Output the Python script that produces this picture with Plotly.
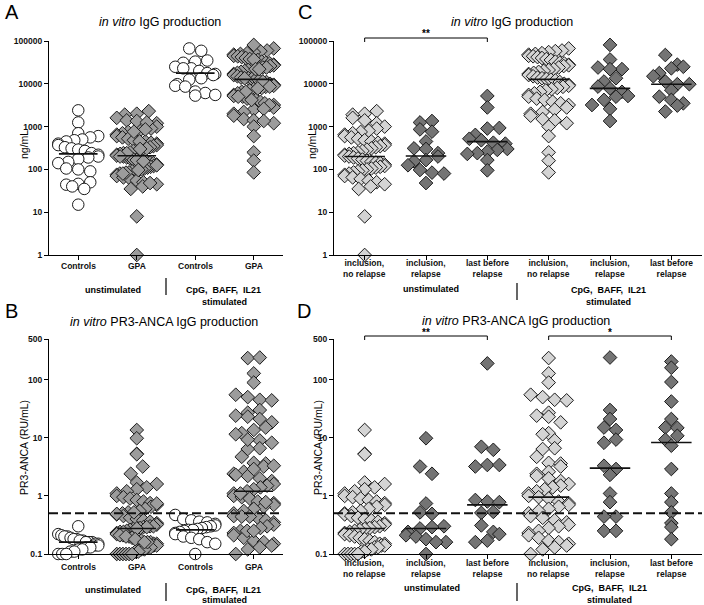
import numpy as np
import plotly.graph_objects as go

# ---------------- data ----------------
# Panel C : in vitro IgG (ng/mL), GPA subgroups
igg_unstim_incl_norelapse = [2300, 2000, 1900, 1600, 1400, 1200, 1000, 900, 800, 750, 700, 650, 600, 560,
                             520, 480, 450, 420, 400, 370, 350, 330, 310, 290, 270, 250, 240, 230, 220,
                             210, 200, 190, 180, 170, 160, 150, 145, 140, 130, 120, 115, 110, 105, 100,
                             95, 90, 85, 80, 75, 70, 65, 60, 55, 50, 45, 40, 35, 8, 1]
igg_unstim_incl_relapse = [1350, 1250, 860, 760, 450, 310, 300, 240, 200, 165, 155, 125, 97, 84, 80, 48]
igg_unstim_last_before = [5200, 2800, 930, 900, 640, 520, 480, 420, 400, 300, 285, 260, 240, 230, 165, 95]
igg_stim_incl_norelapse = [67000, 60000, 58000, 55000, 52000, 50000, 48000, 45000, 44000, 42000, 40000,
                           38000, 36000, 33000, 31000, 30000, 28000, 27000, 26000, 24000, 22000, 21000,
                           20000, 19000, 18000, 17000, 16000, 15000, 14000, 13500, 13000, 12500, 12000,
                           11000, 10000, 9500, 9000, 8500, 8000, 7500, 7000, 6500, 6000, 5500, 5000, 4500,
                           4200, 3800, 3500, 3200, 2800, 2500, 2200, 2000, 1800, 1500, 1400, 1200, 1000,
                           600, 250, 160, 85]
igg_stim_incl_relapse = [81000, 37000, 24000, 22000, 22000, 13500, 11300, 8600, 7800, 6500, 5200, 5000,
                         4200, 3200, 2600, 1350]
igg_stim_last_before = [47000, 28000, 25000, 23000, 17800, 15000, 11300, 9800, 9800, 7100, 5000, 4200,
                        3500, 3100, 2250]

# Panel A : controls
igg_ctrl_unstim = [2400, 1250, 700, 600, 560, 500, 480, 450, 400, 370, 330, 310, 290, 270, 240, 220, 200,
                   190, 175, 150, 140, 105, 100, 90, 50, 46, 44, 40, 35, 15]
igg_ctrl_stim = [67000, 59000, 35000, 33000, 31000, 25000, 23000, 23000, 20000, 17800, 17000, 16000, 13500,
                 12500, 9800, 9000, 8600, 6600, 6100, 5500, 5300]

# Panel D : in vitro PR3-ANCA (RU/mL), GPA subgroups
anca_unstim_incl_norelapse = [13.6, 5.3, 5.2, 1.7, 1.6, 1.4, 1.3, 1.2, 1.1, 1.0, 0.95, 0.9, 0.85, 0.8, 0.75,
                              0.7, 0.65, 0.6, 0.55, 0.52, 0.5, 0.48, 0.45, 0.42, 0.4, 0.38, 0.36, 0.34, 0.32,
                              0.3, 0.29, 0.28, 0.27, 0.26, 0.25, 0.24, 0.23, 0.22, 0.21, 0.2, 0.19, 0.18,
                              0.17, 0.16, 0.15, 0.15, 0.14, 0.14, 0.13, 0.13, 0.12, 0.12, 0.11, 0.11, 0.1,
                              0.1, 0.1, 0.1, 0.1]
anca_unstim_incl_relapse = [9.8, 3.2, 2.4, 0.74, 0.52, 0.49, 0.3, 0.29, 0.275, 0.24, 0.21, 0.2, 0.18, 0.16,
                            0.16, 0.10]
anca_unstim_last_before = [190, 7.0, 6.2, 3.4, 3.4, 3.2, 0.85, 0.8, 0.78, 0.53, 0.51, 0.31, 0.24, 0.22,
                           0.17, 0.16]
anca_stim_incl_norelapse = [235, 128, 89, 55, 50, 45, 44, 27, 24, 23, 18.4, 12, 11.5, 9, 6.6, 6.4, 4.7, 3.7,
                            3.6, 3.2, 2.6, 2.4, 2.2, 2.0, 1.8, 1.6, 1.5, 1.4, 1.3, 1.2, 1.1, 1.0, 0.95, 0.9,
                            0.8, 0.75, 0.7, 0.65, 0.6, 0.55, 0.5, 0.45, 0.42, 0.38, 0.35, 0.32, 0.3, 0.28,
                            0.25, 0.23, 0.21, 0.19, 0.17, 0.16, 0.15, 0.14, 0.13, 0.12, 0.10]
anca_stim_incl_relapse = [240, 30, 21, 15, 13.6, 9.3, 8.2, 3.3, 2.9, 2.3, 1.1, 0.78, 0.44, 0.44, 0.25, 0.25]
anca_stim_last_before = [205, 160, 91, 42, 21, 15, 14.8, 10.8, 9.3, 7.3, 2.9, 1.1, 0.78, 0.52, 0.34, 0.29,
                         0.18]

# Panel B : controls
anca_ctrl_unstim = [0.30, 0.22, 0.21, 0.20, 0.20, 0.19, 0.18, 0.18, 0.17, 0.17, 0.16, 0.16, 0.16, 0.15, 0.15,
                    0.14, 0.14, 0.13, 0.13, 0.12, 0.12, 0.11, 0.11, 0.10, 0.10, 0.10]
anca_ctrl_stim = [0.47, 0.40, 0.38, 0.36, 0.35, 0.33, 0.31, 0.30, 0.29, 0.28, 0.27, 0.26, 0.26, 0.25, 0.24,
                  0.23, 0.22, 0.20, 0.19, 0.18, 0.16, 0.15, 0.10]

# medians (horizontal bars)
med_A = [230, 209, 17800, 12700]
med_B = [0.16, 0.275, 0.26, 1.2]
med_C = [200, 205, 445, 12700, 7800, 9800]
med_D = [0.275, 0.275, 0.70, 0.95, 3.0, 8.3]
anca_cutoff = 0.5

# tick labels
cats_AB = ["Controls", "GPA", "Controls", "GPA"]
cats_CD = ["inclusion,<br>no relapse", "inclusion,<br>relapse", "last before<br>relapse",
           "inclusion,<br>no relapse", "inclusion,<br>relapse", "last before<br>relapse"]
igg_ticks = [1, 10, 100, 1000, 10000, 100000]
anca_ticks = [0.1, 1, 10, 100, 500]

# ---------------- layout geometry (pixels) ----------------
W, H = 704, 605
FONT = "Liberation Sans, Arial, sans-serif"
panels = {
    "A": dict(ax="", x0=49, x1=283, top=41, bot=255, xr=[0.5, 4.5], yr=[0, 5], laby=266),
    "C": dict(ax="2", x0=334, x1=702, top=41, bot=255, xr=[0.5, 6.5], yr=[0, 5], laby=268.5),
    "B": dict(ax="3", x0=49, x1=283, top=339, bot=554, xr=[0.5, 4.5], yr=[-1, np.log10(500)], laby=567),
    "D": dict(ax="4", x0=334, x1=702, top=339, bot=554, xr=[0.5, 6.5], yr=[-1, np.log10(500)], laby=568.5),
}

fig = go.Figure()


def row_offsets(vals, lo, hi, hpx, rowh=10.0, step=12.0, maxhalf=20.0):
    """GraphPad-like scatter-dot arrangement: points binned in rows, spread symmetrically."""
    ys = (np.log10(np.asarray(vals, float)) - lo) / (hi - lo) * hpx
    bins = np.floor(ys / rowh)
    offs = np.zeros(len(vals))
    for k, b in enumerate(np.unique(bins)):
        idx = np.where(bins == b)[0]
        idx = idx[np.argsort(ys[idx], kind="stable")]
        n = len(idx)
        if n == 1:
            continue
        s = min(step, 2 * maxhalf / (n - 1))
        pos = (np.arange(n) - (n - 1) / 2) * s
        if k % 2:
            pos = pos[::-1]
        offs[idx] = pos
    return offs


def add_group(p, vals, pos, kind):
    g = panels[p]
    ppu = (g["x1"] - g["x0"]) / (g["xr"][1] - g["xr"][0])
    hpx = g["bot"] - g["top"]
    if kind == "ctrl":
        sym, size, color = "circle", 11.5, "white"
    else:
        sym, size = "diamond", 10.5
        color = {"gpa": "#9c9c9c", "light": "#d4d4d4", "dark": "#747474"}[kind]
    offs = row_offsets(vals, g["yr"][0], g["yr"][1], hpx) / ppu
    fig.add_trace(go.Scatter(
        x=pos + offs, y=vals, mode="markers", cliponaxis=False, showlegend=False, hoverinfo="skip",
        marker=dict(symbol=sym, size=size, color=color, line=dict(color="#1a1a1a", width=1)),
        xaxis="x" + g["ax"], yaxis="y" + g["ax"]))


def add_medians(p, meds):
    g = panels[p]
    for i, m in enumerate(meds):
        fig.add_trace(go.Scatter(
            x=[i + 1 - 0.33, i + 1 + 0.33], y=[m, m], mode="lines", cliponaxis=False,
            line=dict(color="#111", width=1.6), showlegend=False, hoverinfo="skip",
            xaxis="x" + g["ax"], yaxis="y" + g["ax"]))


def add_cutoff(p):
    g = panels[p]
    fig.add_trace(go.Scatter(
        x=g["xr"], y=[anca_cutoff, anca_cutoff], mode="lines", cliponaxis=False,
        line=dict(color="#111", width=2, dash="9px,4px"), showlegend=False, hoverinfo="skip",
        xaxis="x" + g["ax"], yaxis="y" + g["ax"]))


# Panel A
add_group("A", igg_ctrl_unstim, 1, "ctrl")
add_group("A", igg_unstim_incl_norelapse + igg_unstim_incl_relapse, 2, "gpa")
add_group("A", igg_ctrl_stim, 3, "ctrl")
add_group("A", igg_stim_incl_norelapse + igg_stim_incl_relapse, 4, "gpa")
add_medians("A", med_A)
# Panel C
add_group("C", igg_unstim_incl_norelapse, 1, "light")
add_group("C", igg_unstim_incl_relapse, 2, "dark")
add_group("C", igg_unstim_last_before, 3, "dark")
add_group("C", igg_stim_incl_norelapse, 4, "light")
add_group("C", igg_stim_incl_relapse, 5, "dark")
add_group("C", igg_stim_last_before, 6, "dark")
add_medians("C", med_C)
# Panel B
add_group("B", anca_ctrl_unstim, 1, "ctrl")
add_group("B", anca_unstim_incl_norelapse + anca_unstim_incl_relapse, 2, "gpa")
add_group("B", anca_ctrl_stim, 3, "ctrl")
add_group("B", anca_stim_incl_norelapse + anca_stim_incl_relapse, 4, "gpa")
add_medians("B", med_B)
add_cutoff("B")
# Panel D
add_group("D", anca_unstim_incl_norelapse, 1, "light")
add_group("D", anca_unstim_incl_relapse, 2, "dark")
add_group("D", anca_unstim_last_before, 3, "dark")
add_group("D", anca_stim_incl_norelapse, 4, "light")
add_group("D", anca_stim_incl_relapse, 5, "dark")
add_group("D", anca_stim_last_before, 6, "dark")
add_medians("D", med_D)
add_cutoff("D")

# ---------------- axes ----------------
layout = dict(width=W, height=H, margin=dict(l=0, r=0, t=0, b=0), template="none",
              paper_bgcolor="white", plot_bgcolor="white", font=dict(family=FONT, color="black"),
              showlegend=False)
ann = []
shapes = []
for p, g in panels.items():
    ax = g["ax"]
    cats = cats_AB if p in "AB" else cats_CD
    yt = igg_ticks if p in "AC" else anca_ticks
    layout["xaxis" + ax] = dict(
        domain=[g["x0"] / W, g["x1"] / W], range=g["xr"], anchor="y" + ax,
        tickvals=list(range(1, len(cats) + 1)), ticktext=cats, showticklabels=False,
        ticks="outside", ticklen=4, tickwidth=1, tickcolor="black", showline=True, linecolor="black",
        linewidth=1.2, showgrid=False, zeroline=False, automargin=False)
    layout["yaxis" + ax] = dict(
        domain=[1 - g["bot"] / H, 1 - g["top"] / H], type="log", range=g["yr"], anchor="x" + ax,
        tickvals=yt, ticktext=[f"{t:g}" for t in yt], ticks="outside", ticklen=4, tickwidth=1,
        tickcolor="black", showline=True, linecolor="black", linewidth=1.2, showgrid=False,
        zeroline=False, automargin=False,
        tickfont=dict(family=FONT, size=8.5, weight="bold", color="#111"))
    # category labels under the ticks
    for i, c in enumerate(cats):
        ann.append(dict(x=i + 1, y=1 - g["laby"] / H, xref="x" + ax, yref="paper", text=c,
                        showarrow=False, xanchor="center", yanchor="middle",
                        font=dict(family=FONT, size=8.5, color="#111", weight="bold")))
fig.update_layout(**layout)


# ---------------- text & decorations ----------------
def txt(x, y, s, size, bold=False, angle=0, xanchor="center"):
    ann.append(dict(x=x / W, y=1 - y / H, xref="paper", yref="paper", text=s, showarrow=False,
                    xanchor=xanchor, yanchor="middle", textangle=angle,
                    font=dict(family=FONT, size=size, color="black", weight="bold" if bold else "normal")))


def pline(x0, y0, x1, y1, width=1.2):
    shapes.append(dict(type="line", xref="paper", yref="paper", x0=x0 / W, x1=x1 / W,
                       y0=1 - y0 / H, y1=1 - y1 / H, line=dict(color="black", width=width)))


# panel letters
txt(3, 12, "A", 20, xanchor="left")
txt(296, 12, "C", 20, xanchor="left")
txt(3, 311, "B", 20, xanchor="left")
txt(295, 311, "D", 20, xanchor="left")
# titles
txt(160, 22, "<i>in vitro</i> IgG production", 12.5)
txt(512, 22, "<i>in vitro</i> IgG production", 12.5)
txt(164, 322, "<i>in vitro</i> PR3-ANCA IgG production", 12.5)
txt(516, 321, "<i>in vitro</i> PR3-ANCA IgG production", 12.5)
# y titles
txt(24, 145, "ng/mL", 10.5, angle=-90)
txt(312, 145, "ng/mL", 10.5, angle=-90)
txt(24, 448, "PR3-ANCA (RU/mL)", 10.5, angle=-90)
txt(318, 448, "PR3-ANCA (RU/mL)", 10.5, angle=-90)
# group labels
sp = "\u00a0"
grp = f"CpG,{sp}{sp}BAFF,{sp}{sp}IL21"
txt(113, 290, "unstimulated", 9, bold=True)
txt(223, 290, grp, 9, bold=True)
txt(224, 302, "stimulated", 9, bold=True)
pline(166, 278, 166, 295)
txt(113, 590, "unstimulated", 9, bold=True)
txt(223, 590, grp, 9, bold=True)
txt(224, 599.5, "stimulated", 9, bold=True)
pline(166, 583, 166, 601)
txt(431, 289, "unstimulated", 9, bold=True)
txt(608, 290, grp, 9, bold=True)
txt(608, 302, "stimulated", 9, bold=True)
pline(517, 283, 517, 300)
txt(432, 588, "unstimulated", 9, bold=True)
txt(609, 588, grp, 9, bold=True)
txt(609, 599.5, "stimulated", 9, bold=True)
pline(517, 583, 517, 601)


# significance brackets (x in category units, y in pixels)
def bracket(xa, c0, c1, ytop, label):
    yb = ytop + 4
    for (a0, b0, a1, b1) in [(c0, yb, c0, ytop), (c0, ytop, c1, ytop), (c1, ytop, c1, yb)]:
        shapes.append(dict(type="line", xref=xa, yref="paper", x0=a0, x1=a1, y0=1 - b0 / H,
                           y1=1 - b1 / H, line=dict(color="black", width=1)))
    ann.append(dict(x=(c0 + c1) / 2, y=1 - (ytop - 4) / H, xref=xa, yref="paper", text=label,
                    showarrow=False, xanchor="center", yanchor="middle",
                    font=dict(family=FONT, size=10, color="black", weight="bold")))


bracket("x2", 1, 3, 38, "**")
bracket("x4", 1, 3, 336, "**")
bracket("x4", 4, 6, 336, "*")

fig.update_layout(annotations=ann, shapes=shapes)
fig.write_html("out.html", config={"displayModeBar": False},
               post_script="document.body.style.margin='0';document.body.style.overflow='hidden';")
